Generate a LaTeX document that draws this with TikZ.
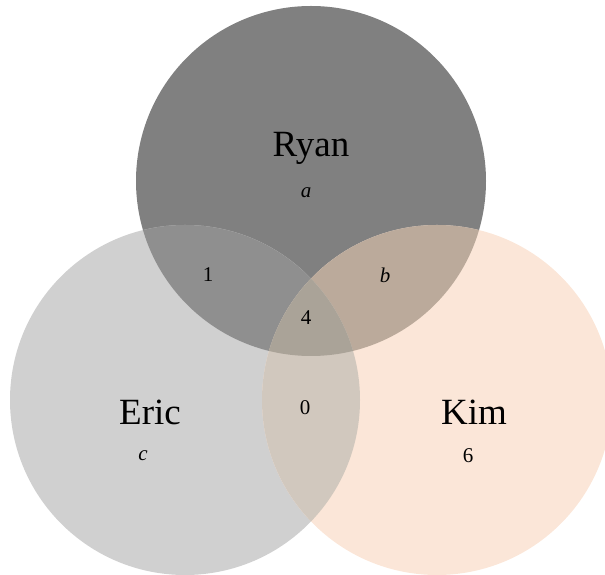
\documentclass[tikz,border=0pt]{standalone}
\usepackage{fontspec}
\setmainfont{Liberation Serif}
\definecolor{ryanc}{HTML}{808080}
\definecolor{ericc}{HTML}{D0D0D0}
\definecolor{kimc}{HTML}{FBE6D8}
\definecolor{rec}{HTML}{8F8F8F}
\definecolor{rkc}{HTML}{BBAA9B}
\definecolor{ekc}{HTML}{D1C8BE}
\definecolor{rekc}{HTML}{AAA398}
\begin{document}
\begin{tikzpicture}[x=1pt,y=1pt,
  namelbl/.style={font=\fontsize{37}{40}\selectfont, inner sep=0pt},
  numlbl/.style={font=\fontsize{21}{23}\selectfont, inner sep=0pt}]
\useasboundingbox (0,0) rectangle (605,575);
\clip (0,0) rectangle (605,575);
\def\ryanpath{(311,394) circle (175)}
\def\ericpath{(185,175) circle (175)}
\def\kimpath{(437,175) circle (175)}
\fill[ryanc] \ryanpath;
\fill[ericc] \ericpath;
\fill[kimc] \kimpath;
\begin{scope}
  \clip \ryanpath;
  \fill[rec] \ericpath;
  \fill[rkc] \kimpath;
\end{scope}
\begin{scope}
  \clip \ericpath;
  \fill[ekc] \kimpath;
\end{scope}
\begin{scope}
  \clip \ryanpath;
  \clip \ericpath;
  \fill[rekc] \kimpath;
\end{scope}
\node[namelbl] (ryan) at (311,427) {Ryan};
\node[numlbl] (a) at (306,382) {\textit{a}};
\node[numlbl] (n1) at (208,300) {1};
\node[numlbl] (b) at (385,300) {\textit{b}};
\node[numlbl] (n4) at (306,257) {4};
\node[numlbl] (n0) at (305,167) {0};
\node[namelbl] (eric) at (150,163) {Eric};
\node[numlbl] (c) at (143,119) {\textit{c}};
\node[namelbl] (kim) at (474,163) {Kim};
\node[numlbl] (n6) at (468,119) {6};
\end{tikzpicture}
\end{document}
